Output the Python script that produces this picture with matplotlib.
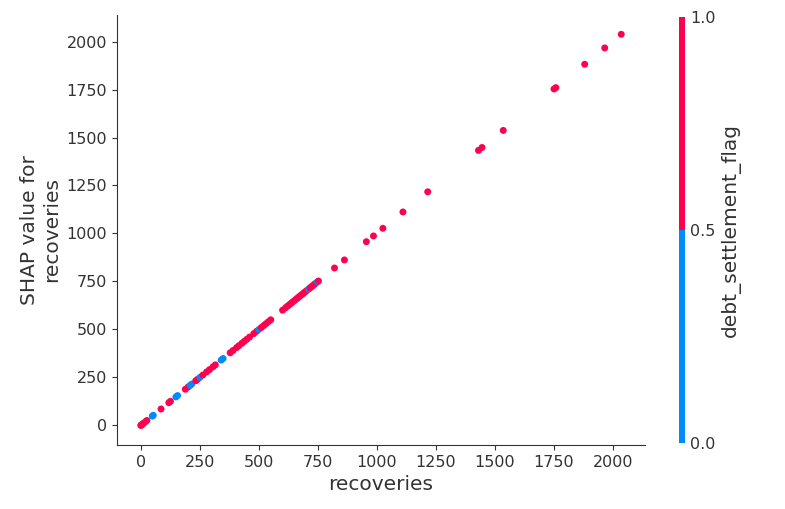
import numpy as np
import matplotlib
matplotlib.use("Agg")
import matplotlib.pyplot as plt
from matplotlib.colors import ListedColormap, Normalize
from matplotlib.cm import ScalarMappable

# recoveries (feature value), its SHAP value and the interaction feature flag
recoveries = [
    0, 0, 3, 6, 10, 18, 25, 48, 52, 85, 118, 125, 148, 155, 188, 200, 208, 215,
    232, 240, 250, 262, 278, 290, 305, 315, 340, 348, 378, 390, 405, 415, 428,
    438, 448, 460, 478, 490, 500, 510, 520, 530, 540, 550,
    600, 612, 620, 628, 635, 642, 650, 657, 663, 670, 677, 684, 690, 697, 703,
    710, 716, 722, 728, 735, 741, 748, 752,
    820, 862, 955, 985, 1025, 1110, 1215, 1430, 1445, 1535, 1750, 1758, 1880,
    1965, 2035,
]
shap_values = [
    0, 0, 3, 6, 10, 18, 25, 48, 52, 85, 118, 125, 148, 155, 188, 200, 208, 215,
    232, 240, 250, 262, 278, 290, 305, 315, 340, 348, 378, 390, 405, 415, 428,
    438, 448, 460, 478, 490, 500, 510, 520, 530, 540, 550,
    600, 612, 620, 628, 635, 642, 650, 657, 663, 670, 677, 684, 690, 697, 703,
    710, 716, 722, 728, 735, 741, 748, 752,
    820, 862, 957, 987, 1027, 1112, 1217, 1433, 1448, 1537, 1753, 1760, 1882,
    1967, 2038,
]
debt_settlement_flag = [
    1, 1, 1, 1, 1, 1, 1, 0, 0, 1, 1, 1, 0, 0, 1, 1, 0, 0,
    1, 1, 0, 1, 1, 1, 1, 1, 0, 0, 1, 1, 1, 1, 1,
    1, 1, 1, 1, 1, 0, 1, 1, 1, 1, 1,
    1, 1, 1, 1, 1, 1, 1, 1, 1, 1, 1, 1, 1, 1, 1,
    0, 1, 1, 1, 1, 1, 0, 1,
    1, 1, 1, 1, 1, 1, 1, 1, 1, 1, 1, 1, 1,
    1, 1,
]

blue = "#008bfb"
red = "#ff0051"
axis_color = "#333333"
cmap = ListedColormap([blue, red])

fig = plt.figure(figsize=(7.85, 5.09), dpi=100)
ax = fig.add_axes([0.149, 0.126, 0.673, 0.845])

ax.scatter(recoveries, shap_values, c=debt_settlement_flag, cmap=cmap,
           vmin=0, vmax=1, s=25, linewidth=0, alpha=1)

ax.set_xlabel("recoveries", color=axis_color, fontsize=14.5)
ax.set_ylabel("SHAP value for\nrecoveries", color=axis_color, fontsize=14.5)
ax.set_xticks([0, 250, 500, 750, 1000, 1250, 1500, 1750, 2000])
ax.set_yticks([0, 250, 500, 750, 1000, 1250, 1500, 1750, 2000])
ax.tick_params(labelsize=11.5, color=axis_color, labelcolor=axis_color)
ax.spines["top"].set_visible(False)
ax.spines["right"].set_visible(False)
ax.spines["left"].set_color(axis_color)
ax.spines["bottom"].set_color(axis_color)

# colorbar for the interaction feature
cax = fig.add_axes([0.865, 0.13, 0.0076, 0.837])
sm = ScalarMappable(norm=Normalize(0, 1), cmap=cmap)
cb = fig.colorbar(sm, cax=cax, ticks=[0, 0.5, 1])
cb.set_ticklabels(["0.0", "0.5", "1.0"])
cb.outline.set_visible(False)
cb.ax.tick_params(labelsize=11.5, length=0, labelcolor=axis_color)
cb.set_label("debt_settlement_flag", size=14.5, color=axis_color)

fig.savefig("out.png", dpi=100)
